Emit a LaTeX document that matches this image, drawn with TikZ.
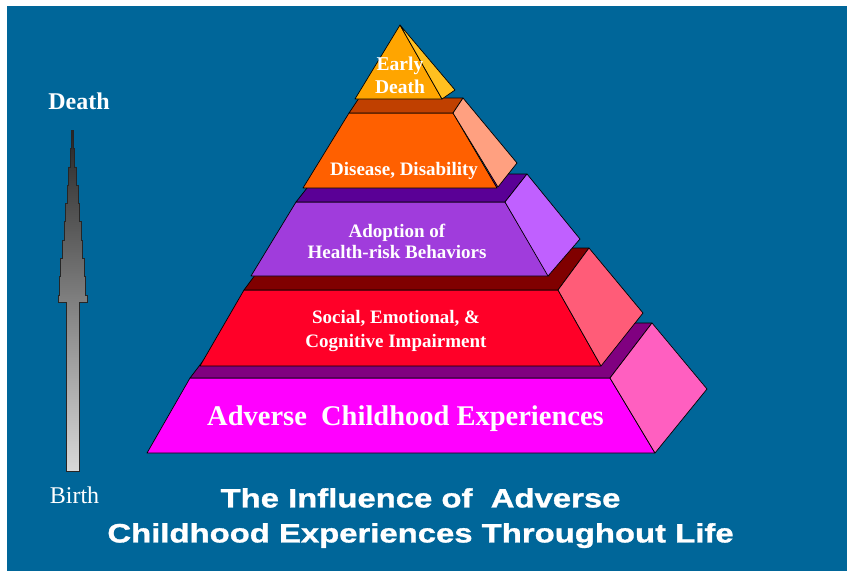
\documentclass[tikz,border=0pt]{standalone}
\usepackage{fontspec}
\setmainfont{Liberation Serif}
\newfontfamily\titlefont{Liberation Sans}[FakeStretch=1.24, FakeBold=1.2]
\usetikzlibrary{positioning}
\definecolor{slidebg}{HTML}{006699}
\definecolor{aceFront}{HTML}{FF00FF}
\definecolor{aceTop}{HTML}{800080}
\definecolor{aceSide}{HTML}{FF5FC0}
\definecolor{socFront}{HTML}{FF0028}
\definecolor{socTop}{HTML}{800000}
\definecolor{socSide}{HTML}{FF5C78}
\definecolor{hrbFront}{HTML}{A03CDC}
\definecolor{hrbTop}{HTML}{5A0096}
\definecolor{hrbSide}{HTML}{C060FF}
\definecolor{disFront}{HTML}{FF6000}
\definecolor{disTop}{HTML}{C04000}
\definecolor{disSide}{HTML}{FFA080}
\definecolor{dthFront}{HTML}{FFA500}
\definecolor{dthSide}{HTML}{FFC020}

\begin{document}
\begin{tikzpicture}[x=1pt, y=-1pt,
    face/.style={draw=black, line width=0.7pt, line join=round},
    lbl/.style={text=white, inner sep=0pt, align=center},
    small/.style={lbl, font=\bfseries\fontsize{19}{24}\selectfont}]
    \useasboundingbox (0,0) rectangle (847,571);
    % slide background
    \fill[white] (0,0) rectangle (847,571);
    \fill[slidebg] (7,6) rectangle (847,571);

    % life arrow, birth at the bottom
    \shadedraw[draw=black!85, line width=0.8pt, top color=black!85, bottom color=black!15]
      (66,471) -- (66,302) -- (58,302) -- (58,295)
      \foreach \i in {0,...,8} { -- ({59.3+1.55*\i},{295-18.3*\i}) -- ({59.3+1.55*\i},{276.7-18.3*\i}) }
      \foreach \i in {8,7,...,0} { -- ({85.7-1.55*\i},{276.7-18.3*\i}) -- ({85.7-1.55*\i},{295-18.3*\i}) }
      -- (87,295) -- (87,302) -- (79,302) -- (79,471) -- cycle;
    \node[lbl, font=\bfseries\fontsize{24}{28}\selectfont, anchor=base] (death) at (79,109) {Death};
    \node[lbl, font=\fontsize{24}{28}\selectfont, anchor=base] (birth) at (74.5,503) {Birth};

    % layer 1
    \filldraw[face, fill=aceFront] (147,453) -- (655,453) -- (610,378) -- (190,378) -- cycle;
    \filldraw[face, fill=aceTop] (190,378) -- (610,378) -- (652,323) -- (232,323) -- cycle;
    \filldraw[face, fill=aceSide] (610,378) -- (652,323) -- (707,389) -- (655,453) -- cycle;
    \node[lbl, font=\bfseries\fontsize{28.5}{32}\selectfont, anchor=base] (ace) at (405.5,425) {Adverse\ \ Childhood Experiences};

    % layer 2
    \filldraw[face, fill=socFront] (200,366) -- (601,366) -- (558,290) -- (244,290) -- cycle;
    \filldraw[face, fill=socTop] (244,290) -- (558,290) -- (589,248) -- (275,248) -- cycle;
    \filldraw[face, fill=socSide] (558,290) -- (589,248) -- (643,313) -- (601,366) -- cycle;
    \node[small, anchor=north] (social) at (396,310) {Social, Emotional, \&\\Cognitive Impairment};

    % layer 3
    \filldraw[face, fill=hrbFront] (251,276) -- (549,276) -- (505,202) -- (296,202) -- cycle;
    \filldraw[face, fill=hrbTop] (296,202) -- (505,202) -- (527,174) -- (318,174) -- cycle;
    \filldraw[face, fill=hrbSide] (505,202) -- (527,174) -- (580,239) -- (548,276) -- cycle;
    \node[small, font=\bfseries\fontsize{19}{21}\selectfont, anchor=north] (adopt) at (397,224.2) {Adoption of\\Health-risk Behaviors};

    % layer 4
    \filldraw[face, fill=disFront] (303,188) -- (497,188) -- (453,113) -- (349,113) -- cycle;
    \filldraw[face, fill=disTop] (349,113) -- (453,113) -- (463,98) -- (359,98) -- cycle;
    \filldraw[face, fill=disSide] (453,113) -- (463,98) -- (517,163) -- (498,187) -- cycle;
    \node[small, anchor=base] (disease) at (404,175) {Disease, Disability};

    % top
    \filldraw[face, fill=dthFront] (400,25) -- (442,99) -- (355,99) -- cycle;
    \filldraw[face, fill=dthSide] (400,25) -- (455,90) -- (442,99) -- cycle;
    \node[small, font=\bfseries\fontsize{19.5}{23}\selectfont, anchor=north] (early) at (400,56.8) {Early\\Death};

    % title
    \node[lbl, font=\titlefont\bfseries\fontsize{26.5}{35}\selectfont, anchor=north] (title) at (420.5,488) {The Influence of\ \ Adverse\\Childhood Experiences Throughout Life};
\end{tikzpicture}
\end{document}
